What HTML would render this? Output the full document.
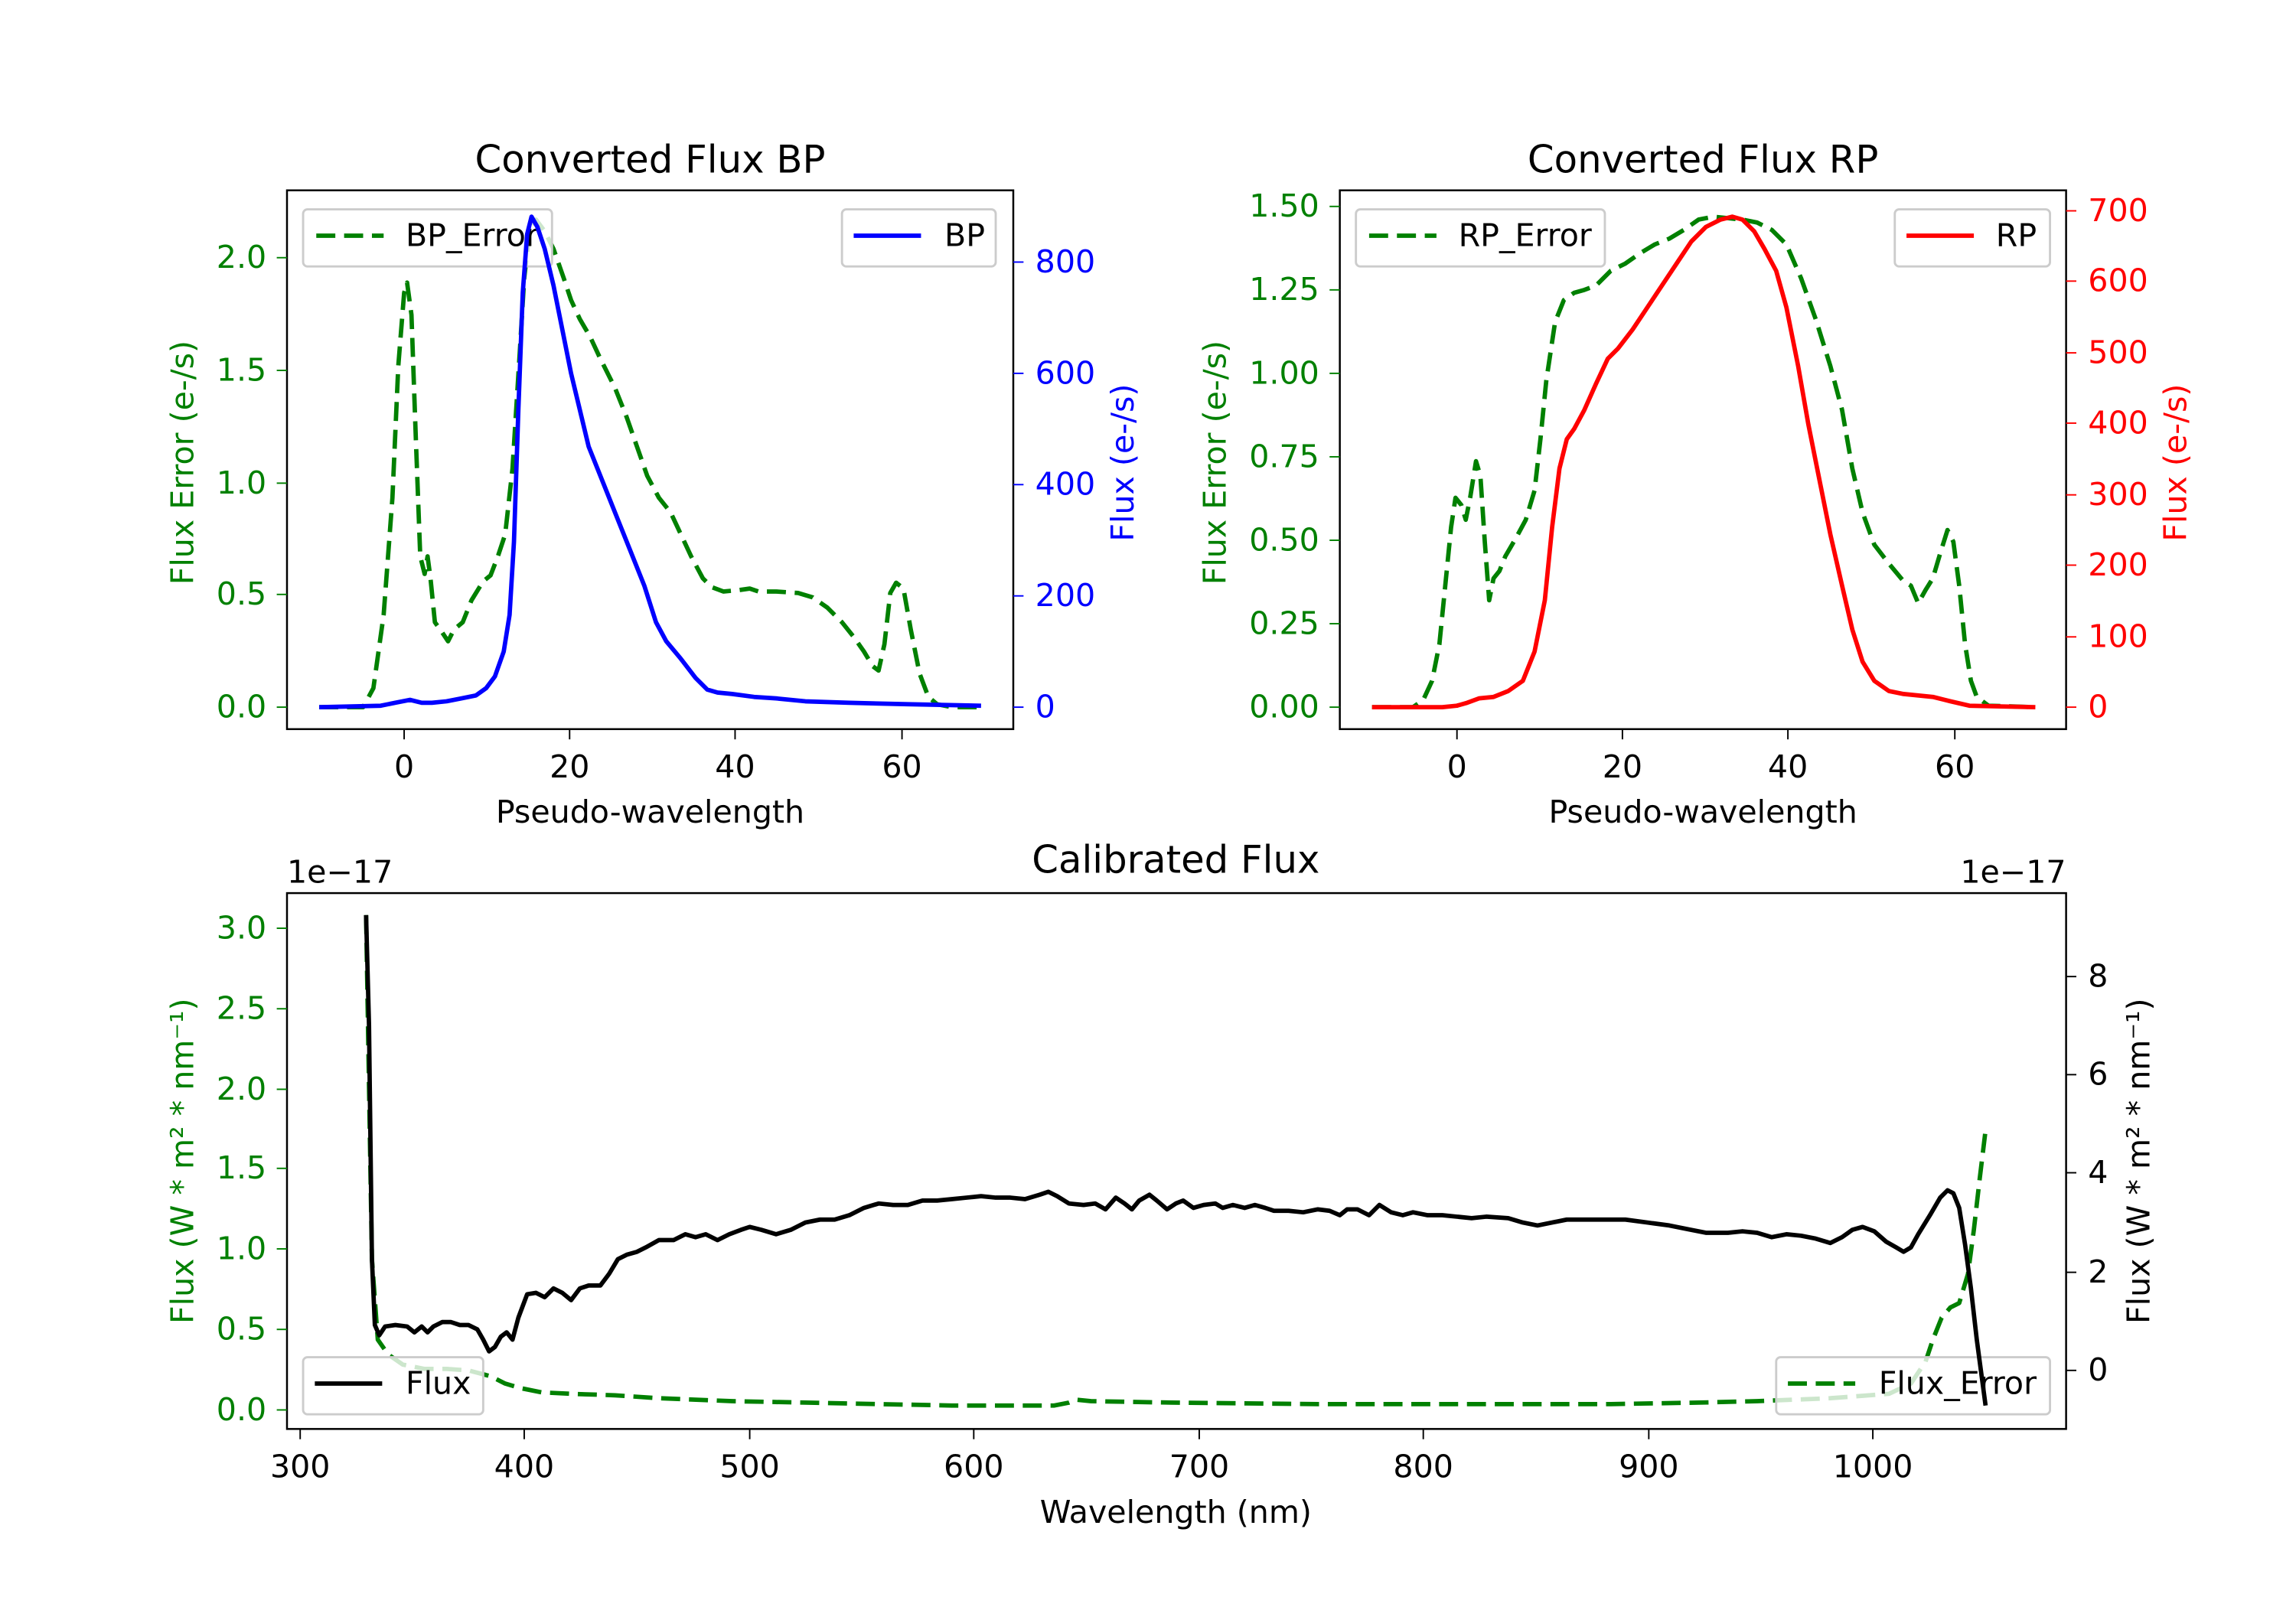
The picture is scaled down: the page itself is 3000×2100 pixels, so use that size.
<!DOCTYPE html>
<html><head><meta charset="utf-8"><style>html,body{margin:0;padding:0;background:#fff}svg{display:block}</style></head><body>
<svg width="3000" height="2100" viewBox="0 0 1568 1097.6" preserveAspectRatio="none" xmlns="http://www.w3.org/2000/svg" font-family="DejaVu Sans, Liberation Sans, sans-serif" font-size="21.5">
<rect width="1568" height="1097.6" fill="#fff"/>
<!-- BP panel -->
<polyline fill="none" stroke-linejoin="round" stroke="green" stroke-width="3" stroke-dasharray="13,6" points="218,483 248,483 255,470 262,420 268,340 272,250 276,200 278,193 281,215 284,300 287,380 290,392 292,380 294,395 297,425 302,432 306,438 310,430 316,425 322,410 330,397 335,393 340,380 345,365 350,320 355,240 358,190 362,155 366,150 372,158 378,170 385,190 390,205 396,218 403,230 410,245 420,265 428,285 435,305 442,325 450,340 458,350 465,365 472,380 480,395 486,401 494,404 505,403 512,402 518,404 530,404 545,405 555,408 565,415 575,425 583,435 590,445 596,455 600,458 604,440 608,405 612,398 617,402 622,430 628,460 634,476 640,481 650,483 670,483"/>
<rect x="207" y="143" width="170" height="39" rx="3" fill="#fff" fill-opacity="0.8" stroke="#ccc" stroke-width="1.5"/>
<line x1="216" y1="161" x2="262" y2="161" stroke="green" stroke-width="3" stroke-dasharray="13,6"/><text x="277" y="168">BP_Error</text>
<polyline fill="none" stroke-linejoin="round" stroke="blue" stroke-width="3" points="218,483 260,482 270,480 280,478 288,480 295,480 305,479 315,477 325,475 332,470 338,462 344,445 348,420 351,370 354,280 357,200 360,160 363,148 367,155 372,170 378,195 384,225 390,255 396,280 402,305 410,325 420,350 430,375 440,400 448,425 455,438 465,450 475,463 483,471 490,473 500,474 515,476 530,477 550,479 580,480 620,481 670,482"/>
<rect x="196" y="130" width="496" height="368" fill="none" stroke="#000" stroke-width="1.3"/>
<g stroke="#000"><line x1="276" y1="498" x2="276" y2="505"/><line x1="389" y1="498" x2="389" y2="505"/><line x1="502" y1="498" x2="502" y2="505"/><line x1="616" y1="498" x2="616" y2="505"/></g>
<g text-anchor="middle"><text x="276" y="531">0</text><text x="389" y="531">20</text><text x="502" y="531">40</text><text x="616" y="531">60</text>
<text x="444" y="562">Pseudo-wavelength</text><text x="444" y="118" font-size="26">Converted Flux BP</text></g>
<g stroke="green"><line x1="189" y1="483" x2="196" y2="483"/><line x1="189" y1="406" x2="196" y2="406"/><line x1="189" y1="330" x2="196" y2="330"/><line x1="189" y1="253" x2="196" y2="253"/><line x1="189" y1="176" x2="196" y2="176"/></g>
<g fill="green" text-anchor="end"><text x="182" y="490">0.0</text><text x="182" y="413">0.5</text><text x="182" y="337">1.0</text><text x="182" y="260">1.5</text><text x="182" y="183">2.0</text></g>
<g stroke="blue"><line x1="692" y1="483" x2="699" y2="483"/><line x1="692" y1="407" x2="699" y2="407"/><line x1="692" y1="331" x2="699" y2="331"/><line x1="692" y1="255" x2="699" y2="255"/><line x1="692" y1="179" x2="699" y2="179"/></g>
<g fill="blue"><text x="707" y="490">0</text><text x="707" y="414">200</text><text x="707" y="338">400</text><text x="707" y="262">600</text><text x="707" y="186">800</text></g>
<text transform="translate(132,316) rotate(-90)" text-anchor="middle" fill="green">Flux Error (e-/s)</text>
<text transform="translate(774,316) rotate(-90)" text-anchor="middle" fill="blue">Flux (e-/s)</text>
<rect x="575" y="143" width="105" height="39" rx="3" fill="#fff" fill-opacity="0.8" stroke="#ccc" stroke-width="1.5"/>
<line x1="583" y1="161" x2="629" y2="161" stroke="blue" stroke-width="3"/><text x="645" y="168">BP</text>

<!-- RP panel -->
<polyline fill="none" stroke-linejoin="round" stroke="green" stroke-width="3" stroke-dasharray="13,6" points="937,483 965,483 972,478 978,465 983,440 987,400 991,360 994,340 998,345 1001,355 1004,340 1008,315 1011,325 1014,370 1017,410 1020,395 1024,390 1028,380 1035,368 1042,355 1048,335 1052,300 1056,260 1062,220 1068,205 1075,200 1082,198 1090,195 1100,185 1110,180 1120,173 1130,167 1140,163 1150,157 1160,150 1170,148 1180,149 1190,150 1200,152 1210,157 1220,167 1230,190 1240,218 1250,250 1258,280 1265,320 1272,350 1280,372 1290,385 1300,397 1305,400 1310,412 1315,403 1320,395 1325,378 1330,362 1334,370 1338,400 1342,440 1346,465 1350,476 1358,482 1390,483"/>
<rect x="926" y="143" width="170" height="39" rx="3" fill="#fff" fill-opacity="0.8" stroke="#ccc" stroke-width="1.5"/>
<line x1="935" y1="161" x2="981" y2="161" stroke="green" stroke-width="3" stroke-dasharray="13,6"/><text x="996" y="168">RP_Error</text>
<polyline fill="none" stroke-linejoin="round" stroke="red" stroke-width="3" points="937,483 985,483 995,482 1002,480 1010,477 1020,476 1030,472 1040,465 1048,445 1055,410 1060,360 1065,320 1070,300 1075,293 1082,280 1090,262 1098,245 1105,238 1115,225 1125,210 1135,195 1145,180 1155,165 1165,155 1175,150 1183,148 1190,150 1198,158 1205,170 1213,185 1220,210 1228,250 1235,290 1243,330 1250,365 1258,400 1265,430 1272,452 1280,465 1290,472 1300,474 1320,476 1332,479 1345,482 1390,483"/>
<rect x="915" y="130" width="496" height="368" fill="none" stroke="#000" stroke-width="1.3"/>
<g stroke="#000"><line x1="995" y1="498" x2="995" y2="505"/><line x1="1108" y1="498" x2="1108" y2="505"/><line x1="1221" y1="498" x2="1221" y2="505"/><line x1="1335" y1="498" x2="1335" y2="505"/></g>
<g text-anchor="middle"><text x="995" y="531">0</text><text x="1108" y="531">20</text><text x="1221" y="531">40</text><text x="1335" y="531">60</text>
<text x="1163" y="562">Pseudo-wavelength</text><text x="1163" y="118" font-size="26">Converted Flux RP</text></g>
<g stroke="green"><line x1="908" y1="483" x2="915" y2="483"/><line x1="908" y1="426" x2="915" y2="426"/><line x1="908" y1="369" x2="915" y2="369"/><line x1="908" y1="312" x2="915" y2="312"/><line x1="908" y1="255" x2="915" y2="255"/><line x1="908" y1="198" x2="915" y2="198"/><line x1="908" y1="141" x2="915" y2="141"/></g>
<g fill="green" text-anchor="end"><text x="901" y="490">0.00</text><text x="901" y="433">0.25</text><text x="901" y="376">0.50</text><text x="901" y="319">0.75</text><text x="901" y="262">1.00</text><text x="901" y="205">1.25</text><text x="901" y="148">1.50</text></g>
<g stroke="red"><line x1="1411" y1="483" x2="1418" y2="483"/><line x1="1411" y1="435" x2="1418" y2="435"/><line x1="1411" y1="386" x2="1418" y2="386"/><line x1="1411" y1="338" x2="1418" y2="338"/><line x1="1411" y1="289" x2="1418" y2="289"/><line x1="1411" y1="241" x2="1418" y2="241"/><line x1="1411" y1="192" x2="1418" y2="192"/><line x1="1411" y1="144" x2="1418" y2="144"/></g>
<g fill="red"><text x="1426" y="490">0</text><text x="1426" y="442">100</text><text x="1426" y="393">200</text><text x="1426" y="345">300</text><text x="1426" y="296">400</text><text x="1426" y="248">500</text><text x="1426" y="199">600</text><text x="1426" y="151">700</text></g>
<text transform="translate(837,316) rotate(-90)" text-anchor="middle" fill="green">Flux Error (e-/s)</text>
<text transform="translate(1493,316) rotate(-90)" text-anchor="middle" fill="red">Flux (e-/s)</text>
<rect x="1294" y="143" width="106" height="39" rx="3" fill="#fff" fill-opacity="0.8" stroke="#ccc" stroke-width="1.5"/>
<line x1="1302" y1="161" x2="1348" y2="161" stroke="red" stroke-width="3"/><text x="1363" y="168">RP</text>

<!-- Bottom panel -->
<polyline fill="none" stroke-linejoin="round" stroke="green" stroke-width="3" stroke-dasharray="13,6" points="250,625 254,860 258,915 265,925 275,932 290,935 305,935 320,936 335,940 345,945 355,948 370,951 390,952 420,953 450,955 500,957 550,958 600,959 650,960 700,960 720,960 730,958 735,956 745,957 800,958 900,959 1000,959 1100,959 1160,958 1200,957 1250,955 1290,952 1305,945 1315,930 1320,915 1326,900 1332,893 1338,890 1344,870 1348,840 1352,805 1356,772"/>
<rect x="1213" y="927" width="187" height="39" rx="3" fill="#fff" fill-opacity="0.8" stroke="#ccc" stroke-width="1.5"/>
<line x1="1221" y1="945" x2="1267" y2="945" stroke="green" stroke-width="3" stroke-dasharray="13,6"/><text x="1283" y="952">Flux_Error</text>
<polyline fill="none" stroke-linejoin="round" stroke="#000" stroke-width="3" points="250,625 252,700 254,860 256,905 259,912 263,906 270,905 278,906 283,910 288,906 292,910 296,906 302,903 308,903 314,905 320,905 326,908 330,915 334,923 338,920 342,913 346,910 350,915 354,900 360,884 366,883 372,886 378,880 384,883 390,888 396,880 402,878 410,878 416,870 422,860 428,857 435,855 441,852 450,847 460,847 468,843 475,845 482,843 490,847 498,843 506,840 512,838 520,840 530,843 540,840 550,835 560,833 570,833 580,830 590,825 600,822 610,823 620,823 630,820 640,820 650,819 660,818 670,817 680,818 690,818 700,819 710,816 716,814 722,817 730,822 740,823 748,822 755,826 762,818 768,822 773,826 778,820 785,816 790,820 797,826 803,822 808,820 815,825 822,823 830,822 835,825 842,823 850,825 857,823 864,825 870,827 880,827 890,828 900,826 908,827 915,830 920,826 927,826 935,830 942,823 950,828 958,830 965,828 975,830 985,830 995,831 1005,832 1015,831 1030,832 1040,835 1050,837 1060,835 1070,833 1080,833 1095,833 1110,833 1125,835 1140,837 1155,840 1165,842 1180,842 1190,841 1200,842 1210,845 1220,843 1230,844 1240,846 1250,849 1258,845 1265,840 1272,838 1280,841 1288,848 1295,852 1300,855 1305,852 1310,843 1318,830 1325,818 1330,813 1334,815 1338,825 1342,850 1346,880 1350,915 1354,945 1356,960"/>
<rect x="196" y="610" width="1215" height="366" fill="none" stroke="#000" stroke-width="1.3"/>
<g stroke="#000"><line x1="205" y1="976" x2="205" y2="983"/><line x1="358" y1="976" x2="358" y2="983"/><line x1="512" y1="976" x2="512" y2="983"/><line x1="665" y1="976" x2="665" y2="983"/><line x1="819" y1="976" x2="819" y2="983"/><line x1="972" y1="976" x2="972" y2="983"/><line x1="1126" y1="976" x2="1126" y2="983"/><line x1="1279" y1="976" x2="1279" y2="983"/></g>
<g text-anchor="middle"><text x="205" y="1009">300</text><text x="358" y="1009">400</text><text x="512" y="1009">500</text><text x="665" y="1009">600</text><text x="819" y="1009">700</text><text x="972" y="1009">800</text><text x="1126" y="1009">900</text><text x="1279" y="1009">1000</text>
<text x="803" y="1040">Wavelength (nm)</text><text x="803" y="596" font-size="26">Calibrated Flux</text></g>
<text x="196" y="603">1e−17</text><text x="1411" y="603" text-anchor="end">1e−17</text>
<g stroke="green"><line x1="189" y1="963" x2="196" y2="963"/><line x1="189" y1="908" x2="196" y2="908"/><line x1="189" y1="853" x2="196" y2="853"/><line x1="189" y1="798" x2="196" y2="798"/><line x1="189" y1="744" x2="196" y2="744"/><line x1="189" y1="689" x2="196" y2="689"/><line x1="189" y1="634" x2="196" y2="634"/></g>
<g fill="green" text-anchor="end"><text x="182" y="970">0.0</text><text x="182" y="915">0.5</text><text x="182" y="860">1.0</text><text x="182" y="805">1.5</text><text x="182" y="751">2.0</text><text x="182" y="696">2.5</text><text x="182" y="641">3.0</text></g>
<g stroke="#000"><line x1="1411" y1="936" x2="1418" y2="936"/><line x1="1411" y1="869" x2="1418" y2="869"/><line x1="1411" y1="801" x2="1418" y2="801"/><line x1="1411" y1="734" x2="1418" y2="734"/><line x1="1411" y1="667" x2="1418" y2="667"/></g>
<g><text x="1426" y="943">0</text><text x="1426" y="876">2</text><text x="1426" y="808">4</text><text x="1426" y="741">6</text><text x="1426" y="674">8</text></g>
<text transform="translate(132,793) rotate(-90)" text-anchor="middle" fill="green">Flux (W * m² * nm⁻¹)</text>
<text transform="translate(1468,793) rotate(-90)" text-anchor="middle">Flux (W * m² * nm⁻¹)</text>
<rect x="207" y="927" width="123" height="39" rx="3" fill="#fff" fill-opacity="0.8" stroke="#ccc" stroke-width="1.5"/>
<line x1="215" y1="945" x2="261" y2="945" stroke="#000" stroke-width="3"/><text x="277" y="952">Flux</text>
</svg>
</body></html>
